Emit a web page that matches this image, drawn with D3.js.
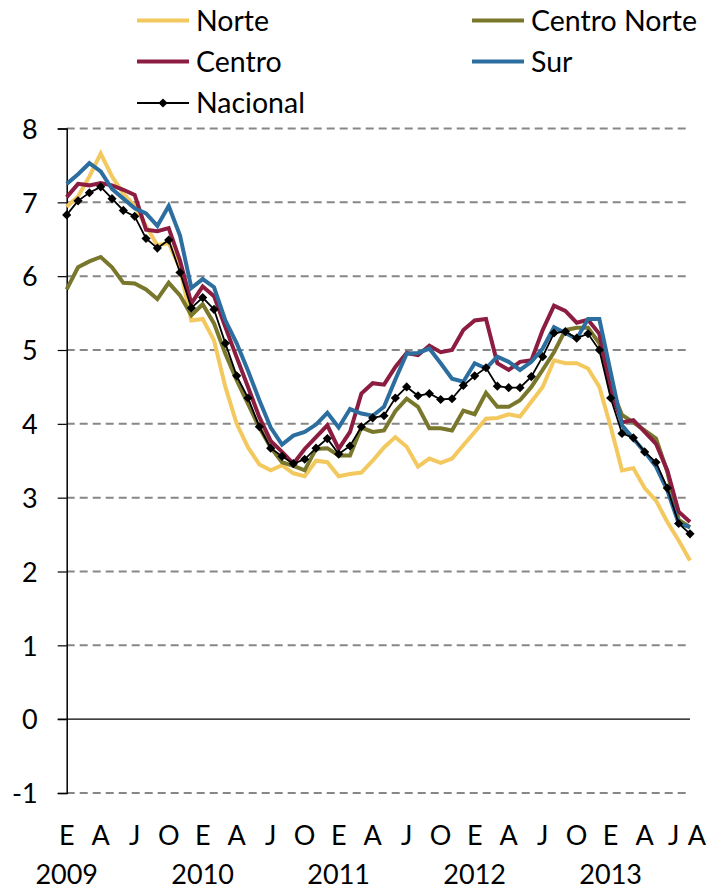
<!DOCTYPE html>
<html>
<head>
<meta charset="utf-8">
<script src="https://cdn.jsdelivr.net/npm/d3@7"></script>
<style>
  body { margin: 0; background: #fff; }
  text { font-family: Lato, "Open Sans", sans-serif; fill: #000; }
</style>
</head>
<body>
<svg id="chart" width="709" height="890"></svg>
<script>
'use strict';

// monthly series, Jan 2009 .. Aug 2013
var months = ["E","F","M","A","M","J","J","A","S","O","N","D"];
var years = ["2009","2010","2011","2012","2013"];
var yTicks = [-1, 0, 1, 2, 3, 4, 5, 6, 7, 8];

var norte = [6.94,7.08,7.35,7.66,7.35,7.12,6.95,6.68,6.42,6.45,6.10,5.40,
  5.42,5.13,4.50,4.00,3.68,3.45,3.37,3.44,3.33,3.29,3.50,3.48,
  3.29,3.32,3.34,3.50,3.68,3.82,3.69,3.42,3.53,3.47,3.53,3.71,
  3.89,4.07,4.08,4.13,4.10,4.30,4.50,4.86,4.82,4.82,4.75,4.50,
  3.96,3.37,3.40,3.13,2.96,2.67,2.42,2.15];
var centroNorte = [5.82,6.12,6.20,6.26,6.12,5.91,5.90,5.82,5.69,5.91,5.74,5.47,
  5.62,5.36,4.95,4.59,4.27,3.95,3.68,3.48,3.43,3.37,3.66,3.67,
  3.57,3.57,3.95,3.89,3.91,4.17,4.34,4.23,3.94,3.94,3.91,4.18,
  4.13,4.42,4.23,4.23,4.32,4.50,4.73,4.97,5.27,5.30,5.30,5.09,
  4.50,4.12,4.02,3.91,3.80,3.35,2.70,2.60];
var centro = [7.07,7.25,7.23,7.26,7.23,7.17,7.10,6.63,6.61,6.65,6.21,5.63,
  5.86,5.73,5.31,4.90,4.50,4.09,3.77,3.62,3.46,3.66,3.82,3.98,
  3.66,3.89,4.41,4.55,4.53,4.77,4.96,4.93,5.06,4.97,5.00,5.27,
  5.40,5.42,4.82,4.73,4.84,4.86,5.27,5.60,5.53,5.37,5.41,5.22,
  4.45,4.02,4.05,3.89,3.73,3.37,2.81,2.67];
var sur = [7.25,7.38,7.53,7.42,7.18,7.05,6.92,6.85,6.68,6.95,6.55,5.84,
  5.96,5.85,5.40,5.09,4.72,4.32,3.95,3.72,3.84,3.89,3.99,4.15,
  3.95,4.20,4.14,4.11,4.23,4.60,4.95,4.96,5.02,4.82,4.61,4.57,
  4.82,4.75,4.91,4.84,4.73,4.84,5.02,5.31,5.23,5.15,5.42,5.42,
  4.70,3.98,3.80,3.62,3.42,3.10,2.65,2.60];
var nacional = [6.83,7.02,7.13,7.21,7.05,6.89,6.81,6.51,6.38,6.49,6.05,5.57,
  5.71,5.55,5.09,4.65,4.35,3.96,3.67,3.56,3.46,3.52,3.67,3.80,
  3.59,3.70,3.96,4.08,4.11,4.35,4.50,4.38,4.41,4.33,4.34,4.52,
  4.65,4.76,4.51,4.49,4.49,4.64,4.91,5.23,5.25,5.16,5.22,5.00,
  4.35,3.87,3.81,3.62,3.48,3.13,2.65,2.51];

var series = [
  {name: "Norte", values: norte, color: "#F3C95F"},
  {name: "Centro Norte", values: centroNorte, color: "#78772B"},
  {name: "Centro", values: centro, color: "#8C1D40"},
  {name: "Sur", values: sur, color: "#2B6E9F"},
  {name: "Nacional", values: nacional, color: "#000", marker: true}
];

var svg = d3.select("#chart");
var n = nacional.length;

var x = d3.scaleLinear().domain([0, n - 1]).range([66.7, 690]);
var y = d3.scaleLinear().domain([-1, 8]).range([793, 128.5]);

// gridlines
svg.append("g").selectAll("line")
  .data(yTicks.filter(function(d) { return d !== 0; }))
  .enter().append("line")
  .attr("x1", x(0)).attr("x2", x(n - 1) - 2)
  .attr("y1", function(d) { return y(d); })
  .attr("y2", function(d) { return y(d); })
  .attr("stroke", "#878787")
  .attr("stroke-width", 2)
  .attr("stroke-dasharray", "8,5");

// y axis (plain hyphen for negatives, like the original)
var yAxis = d3.axisLeft(y).tickValues(yTicks).tickSize(9)
  .tickFormat(function(d) { return String(d); });
var gy = svg.append("g").attr("transform", "translate(" + x(0) + ",0)").call(yAxis);
gy.select(".domain").attr("stroke", "#000").attr("stroke-width", 1.5);
gy.selectAll(".tick line").attr("stroke", "#000").attr("stroke-width", 1.2);
gy.selectAll(".tick text")
  .attr("x", -29)
  .attr("dy", "0.36em")
  .style("font-size", "27px")
  .style("font-family", "Lato, sans-serif");

// horizontal axis line at zero
svg.append("line")
  .attr("x1", x(0) - 9).attr("x2", x(n - 1))
  .attr("y1", y(0)).attr("y2", y(0))
  .attr("stroke", "#000").attr("stroke-width", 1.2);

// month labels
var labelIdx = d3.range(0, n, 3).concat([n - 1]);
svg.append("g").selectAll("text")
  .data(labelIdx)
  .enter().append("text")
  .attr("x", function(d) {
    var off = 0;
    if (d === n - 2) off = -5;
    if (d === n - 1) off = 7;
    return x(d) + off;
  })
  .attr("y", 845)
  .attr("text-anchor", "middle")
  .style("font-size", "27px")
  .text(function(d) { return months[d % 12]; });

svg.append("g").selectAll("text")
  .data(years)
  .enter().append("text")
  .attr("x", function(d, i) { return x(i * 12); })
  .attr("y", 884)
  .attr("text-anchor", "middle")
  .style("font-size", "27px")
  .text(function(d) { return d; });

// lines
var line = d3.line()
  .x(function(d, i) { return x(i); })
  .y(function(d) { return y(d); });

series.forEach(function(s) {
  svg.append("path")
    .datum(s.values)
    .attr("d", line)
    .attr("fill", "none")
    .attr("stroke", s.color)
    .attr("stroke-width", s.marker ? 1.8 : 4)
    .attr("stroke-linejoin", "miter");
});

var diamond = d3.symbol().type(d3.symbolSquare).size(42);
svg.append("g").selectAll("path")
  .data(nacional)
  .enter().append("path")
  .attr("d", diamond)
  .attr("transform", function(d, i) { return "translate(" + x(i) + "," + y(d) + ") rotate(45)"; })
  .attr("fill", "#000");

// legend
var legendPos = [[137, 20.5], [472, 20.5], [137, 61.5], [472, 61.5], [137, 103]];
var lg = svg.append("g").selectAll("g")
  .data(series)
  .enter().append("g")
  .attr("transform", function(d, i) { return "translate(" + legendPos[i][0] + "," + legendPos[i][1] + ")"; });

lg.append("line")
  .attr("x1", 0).attr("x2", 52)
  .attr("stroke", function(d) { return d.color; })
  .attr("stroke-width", function(d) { return d.marker ? 1.8 : 4; });

lg.filter(function(d) { return d.marker; })
  .append("path")
  .attr("d", diamond)
  .attr("transform", "translate(26,0) rotate(45)");

lg.append("text")
  .attr("x", 59)
  .attr("y", 10)
  .style("font-size", "28.5px")
  .text(function(d) { return d.name; });
</script>
</body>
</html>
